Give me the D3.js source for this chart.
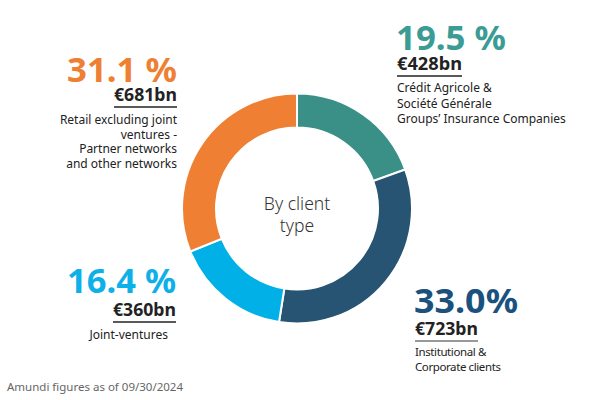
<!DOCTYPE html>
<html><head><meta charset="utf-8">
<script src="https://cdn.jsdelivr.net/npm/d3@7"></script>
<style>body{margin:0;background:#fff}svg{display:block}text{font-family:"Noto Sans",sans-serif}</style>
</head><body><svg width="600" height="400"></svg>
<script>
const categories = ["Crédit Agricole & Société Générale Groups’ Insurance Companies","Institutional & Corporate clients","Joint-ventures","Retail excluding joint ventures - Partner networks and other networks"];
const shares = [19.5, 33.0, 16.4, 31.1];
const shareLabels = ["19.5 %","33.0%","16.4 %","31.1 %"];
const amounts = ["€428bn","€723bn","€360bn","€681bn"];
const descLines = [
  ["Crédit Agricole &","Société Générale","Groups’ Insurance Companies"],
  ["Institutional &","Corporate clients"],
  ["Joint-ventures"],
  ["Retail excluding joint","ventures -","Partner networks","and other networks"]
];
const colors = ["#3a8f86","#275473","#00b0e6","#ee7f33"];
const textColors = ["#3a9c94","#1b527d","#0db0e8","#ee7f33"];

const svg = d3.select("svg");
const cx = 297, cy = 208.5, R = 115, r = 81;
const pie = d3.pie().sort(null).value(d => d);
const arc = d3.arc().innerRadius(r).outerRadius(R);
const g = svg.append("g").attr("transform", `translate(${cx},${cy})`);
g.selectAll("path").data(pie(shares)).join("path")
  .attr("d", arc).attr("fill", (d,i) => colors[i])
  .attr("stroke", "#fff").attr("stroke-width", 2);

g.append("text").attr("text-anchor","middle").attr("y", 1).attr("font-size", 17.5)
  .attr("fill","#333").attr("font-weight",300).text("By client");
g.append("text").attr("text-anchor","middle").attr("y", 23).attr("font-size", 17.5)
  .attr("fill","#333").attr("font-weight",300).text("type");

// label layout: [x, anchor, pctBaseline, amtBaseline, underlineY, descStart, lineGap]
const layout = [
  {x:396, a:"start", py:50, ay:70, uy:76, dy:92, gap:15.5, dfs:12},
  {x:414, a:"start", py:313, ay:335, uy:341, dy:356, gap:15, dfs:11.5},
  {x:176, a:"end", py:293, ay:316, uy:322, dy:339, gap:15, dfs:12},
  {x:177, a:"end", py:82, ay:101, uy:107, dy:124, gap:14.5, dfs:12}
];
const pctW = [110, 104, 109, 110];
const amtW = [65, 63, 63, 63];
layout.forEach((L,i) => {
  const t = svg.append("g");
  t.append("text").attr("x", L.x).attr("y", L.py).attr("text-anchor", L.a)
    .attr("font-size", 34).attr("font-weight", 700).attr("fill", textColors[i])
    .attr("textLength", pctW[i]).attr("lengthAdjust","spacingAndGlyphs")
    .text(shareLabels[i]);
  const ax = L.a === "start" ? L.x + 1 : L.x;
  t.append("text").attr("x", ax).attr("y", L.ay).attr("text-anchor", L.a)
    .attr("font-size", 17).attr("font-weight", 700).attr("fill", "#222")
    .attr("textLength", amtW[i]).attr("lengthAdjust","spacingAndGlyphs")
    .text(amounts[i]);
  const x0 = L.a === "start" ? ax : ax - amtW[i];
  t.append("line").attr("x1", x0).attr("x2", x0 + amtW[i]).attr("y1", L.uy).attr("y2", L.uy)
    .attr("stroke", i === 1 ? "#999" : "#222").attr("stroke-width", i === 1 ? 2 : 1.5);
  descLines[i].forEach((s,j) => {
    t.append("text").attr("x", L.a === "start" ? L.x + 1 : (i===2 ? 168 : L.x)).attr("y", L.dy + j*L.gap)
      .attr("text-anchor", L.a).attr("font-size", L.dfs).attr("fill", "#222")
      .attr("letter-spacing", i===1 ? -0.4 : 0)
      .text(s);
  });
});

svg.append("text").attr("x", 7).attr("y", 391).attr("font-size", 11.5)
  .attr("fill","#666").text("Amundi figures as of 09/30/2024");
</script></body></html>
